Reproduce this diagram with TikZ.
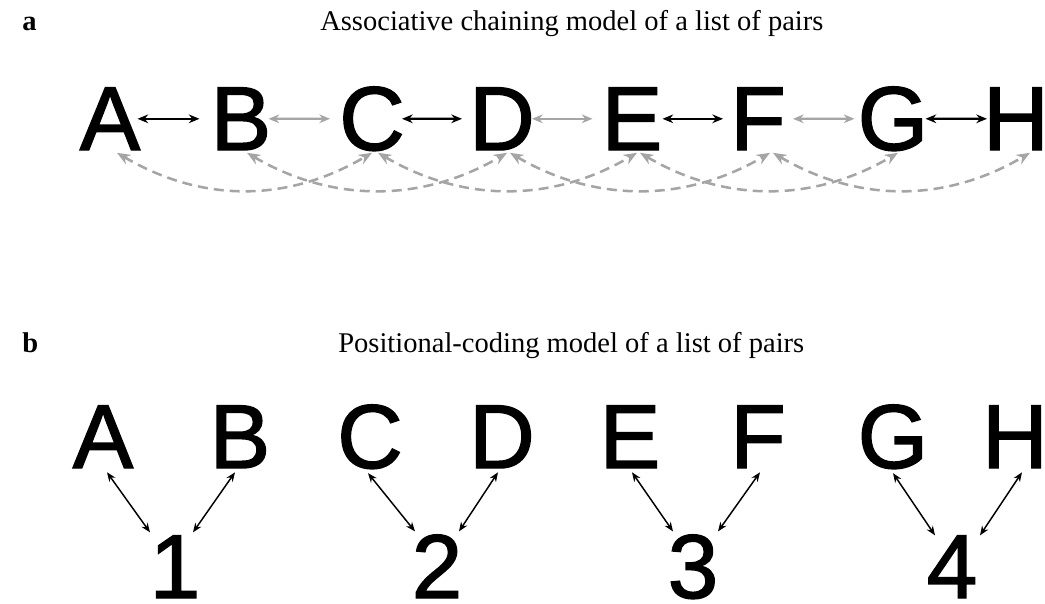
\documentclass[tikz,border=0pt]{standalone}
\usepackage{fontspec}
\setmainfont{Liberation Serif}
\newfontfamily\itemfont[FakeBold=1.6]{Liberation Sans}
\usetikzlibrary{arrows.meta,calc}
\definecolor{lgray}{RGB}{165,165,165}

\begin{document}
\begin{tikzpicture}[x=0.75pt,y=-0.75pt,
  item/.style={font=\itemfont\fontsize{68}{68}\selectfont, inner sep=0pt, anchor=base},
  heading/.style={font=\fontsize{21.4}{24}\selectfont, inner sep=0pt, anchor=base west},
  panel/.style={font=\bfseries\fontsize{21.4}{24}\selectfont, inner sep=0pt, anchor=base west},
  pairlink/.style={line width=1.6pt, {Stealth[length=8pt,width=6.5pt]}-{Stealth[length=8pt,width=6.5pt]}},
  blk/.style={pairlink, black},
  gry/.style={pairlink, lgray},
  chain/.style={lgray, line width=1.9pt, dash pattern=on 7.5pt off 4.5pt,
    {Stealth[length=10pt,width=8pt]}-{Stealth[length=10pt,width=8pt]}},
  poslink/.style={black, line width=1.1pt, {Stealth[length=7pt,width=5.5pt]}-{Stealth[length=7pt,width=5.5pt]}}
]
\useasboundingbox (0,0) rectangle (1045,603);

% ---------- panel a: associative chaining ----------
\node[panel] (la) at (22,31) {a};
\node[heading] (ta) at (320,31) {Associative chaining model of a list of pairs};

\node[item] (A) at (110,150) {A};
\node[item] (B) at (241,150) {B};
\node[item] (C) at (372,150) {C};
\node[item] (D) at (502,150) {D};
\node[item] (E) at (632,150) {E};
\node[item] (F) at (758,150) {F};
\node[item] (G) at (893,150) {G};
\node[item] (H) at (1016,150) {H};

% neighbour links
\draw[blk] ([shift={(-3,0)}]A.east) -- ([shift={(-11,0)}]B.west);
\draw[gry] ([shift={(-3,0)}]B.east) -- ([shift={(-9,0)}]C.west);
\draw[blk] ([shift={(-3,0)}]C.east) -- ([shift={(-7,0)}]D.west);
\draw[gry] ([shift={(-3,0)}]D.east) -- ([shift={(-9,0)}]E.west);
\draw[blk] ([shift={(0,0)}]E.east) -- ([shift={(-7,0)}]F.west);
\draw[gry] ([shift={(7,0)}]F.east) -- ([shift={(-3,0)}]G.west);
\draw[blk] ([shift={(-3,0)}]G.east) -- ([shift={(4,0)}]H.west);

% remote links, two steps apart
\draw[chain] ([shift={(7,34)}]A.center) .. controls +(85,50) and +(-85,50) .. ([shift={(0,34)}]C.center);
\draw[chain] ([shift={(6,34)}]B.center) .. controls +(85,50) and +(-85,50) .. ([shift={(5,34)}]D.center);
\draw[chain] ([shift={(6,34)}]C.center) .. controls +(85,50) and +(-85,50) .. ([shift={(5,34)}]E.center);
\draw[chain] ([shift={(8,34)}]D.center) .. controls +(85,50) and +(-85,50) .. ([shift={(12,34)}]F.center);
\draw[chain] ([shift={(8,34)}]E.center) .. controls +(85,50) and +(-85,50) .. ([shift={(5,34)}]G.center);
\draw[chain] ([shift={(15,34)}]F.center) .. controls +(85,50) and +(-85,50) .. ([shift={(14,34)}]H.center);

% ---------- panel b: positional coding ----------
\node[panel] (lb) at (22,352) {b};
\node[heading] (tb) at (338,352) {Positional-coding model of a list of pairs};

\node[item] (pA) at (103,468) {A};
\node[item] (pB) at (240,468) {B};
\node[item] (pC) at (370,468) {C};
\node[item] (pD) at (502,468) {D};
\node[item] (pE) at (630,468) {E};
\node[item] (pF) at (758,468) {F};
\node[item] (pG) at (893,468) {G};
\node[item] (pH) at (1015,468) {H};

\node[item] (n1) at (175,598) {1};
\node[item] (n2) at (437,598) {2};
\node[item] (n3) at (693,598) {3};
\node[item] (n4) at (952,598) {4};

\draw[poslink] ([shift={(4,4)}]pA.south) -- ([shift={(-25,-3)}]n1.north);
\draw[poslink] ([shift={(-5,4)}]pB.south) -- ([shift={(18,-3)}]n1.north);
\draw[poslink] ([shift={(-2,4)}]pC.south) -- ([shift={(-22,-3)}]n2.north);
\draw[poslink] ([shift={(-4,4)}]pD.south) -- ([shift={(22,-3)}]n2.north);
\draw[poslink] ([shift={(2,4)}]pE.south) -- ([shift={(-20,-3)}]n3.north);
\draw[poslink] ([shift={(2,4)}]pF.south) -- ([shift={(25,-3)}]n3.north);
\draw[poslink] ([shift={(0,4)}]pG.south) -- ([shift={(-17,0)}]n4.north);
\draw[poslink] ([shift={(7,4)}]pH.south) -- ([shift={(28,0)}]n4.north);
\end{tikzpicture}
\end{document}
